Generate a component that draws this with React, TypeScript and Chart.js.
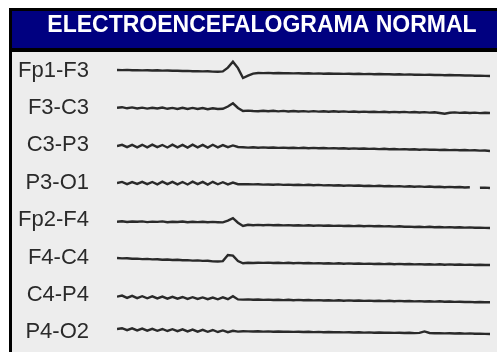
import React, { useEffect, useRef } from "react";
import { Chart, registerables } from "chart.js";

Chart.register(...registerables);

const TITLE = "ELECTROENCEFALOGRAMA NORMAL";
const CHANNELS = ["Fp1-F3", "F3-C3", "C3-P3", "P3-O1", "Fp2-F4", "F4-C4", "C4-P4", "P4-O2"];
const DURATION = 10; // seconds shown
const SPACING = 37.4; // vertical gap between channels (µV units)

const FP1_F3 = [
  0.6, 0.5, 0.7, 0.4, 0.5, 0.2, 0.4, 0.1, 0.3, 0, 0.1, -0.2, -0.1, -0.4, -0.3, -0.6, -0.5, -0.8, -0.7, -1, -1.1,
  -0.8, 3, 8.9, 2.5, -7.4, -5, -3, -2.4,
  -2.5, -2.3, -2.6, -2.4, -2.7, -2.5, -2.8, -2.6, -2.9, -2.7,
  -3, -2.8, -3.1, -2.9, -3.2, -3, -3.3, -3.1, -3.4, -3.2,
  -3.5, -3.3, -3.6, -3.4, -3.7, -3.6, -3.9, -3.7, -4, -3.8,
  -4.1, -4, -4.3, -4.1, -4.4, -4.3, -4.6, -4.4, -4.7, -4.6,
  -4.9, -4.8, -5.1, -5, -5.3, -5.4,
];
const F3_C3 = [
  0.3, 0.8, -0.3, 0.6, -0.5, 0.4, -0.6, 0.3, -0.5, 0.4, -0.8, 0.1, -0.9, 0.2, -0.9, 0.1, -1, 0, -1.2, -0.3, -1,
  -0.8, 1.5, 4.7, 0, -3, -2.6, -3,
  -3.2, -2.7, -3.3, -2.8, -3.4, -2.9, -3.5, -3, -3.5, -3.1,
  -3.6, -3.1, -3.6, -3.2, -3.7, -3.3, -3.8, -3.4, -3.9, -3.5,
  -4, -3.6, -4, -3.7, -4.1, -3.8, -4.2, -3.9, -4.3, -3.9,
  -4.4, -4, -4.5, -4.1, -4.6, -4.2, -5, -5.8, -4.8, -4.4,
  -4.9, -4.5, -5, -4.6, -5.1, -4.8, -5,
];
const C3_P3 = [
  -0.6, 0.6, -1.8, 0.5, -1.9, 0.6, -2, 0.7, -1.8, 0.4, -2.1, 0.8, -1.9, 0.5, -2.2, 0.7, -1.9, 0.5, -2.2, 0.6, -2, 0.3, -1.8, 0, -1.6,
  -1.8, -2.2, -1.9, -2.3, -2, -2.4, -2.1, -2.5, -2.2, -2.6,
  -2.3, -2.7, -2.4, -2.8, -2.5, -2.9, -2.6, -3, -2.7, -3.1,
  -2.9, -3.3, -3, -3.4, -3.1, -3.5, -3.3, -3.7, -3.4, -3.8,
  -3.6, -4, -3.7, -4.1, -3.9, -4.3, -4, -4.4, -4.2, -4.6,
  -4.3, -4.7, -4.5, -4.9, -4.6, -5, -4.8, -5.2, -5.1, -5.6,
];
const P3_O1 = [
  -0.2, 0.9, -1.3, 0.7, -1.1, 1, -1.4, 0.8, -1.5, 1.1, -1.3, 0.9, -1.6, 0.8, -1.7, 1.1, -1.4, 0.9, -1.8, 1, -1.5, 0.6, -1.6, 0.2, -1.4,
  -1.3, -1.5, -1.6, -1.4, -1.8, -1.7, -1.9, -1.6, -2.1, -1.8,
  -2.2, -1.9, -2.3, -2, -2.5, -2.1, -2.6, -2.3, -2.7, -2.4,
  -2.9, -2.6, -3, -2.7, -3.2, -2.9, -3.3, -3, -3.5, -3.2,
  -3.6, -3.3, -3.8, -3.5, -3.9, -3.6, -4.1, -3.7, -4.2, -3.9,
  -4.4, -4.1, -4.5, -4.2, -4.7, -4.4, null, -5, -4.8, -5.2,
];
const FP2_F4 = [
  -1.5, -1.1, -1.8, -1.3, -1.6, -1.2, -1.9, -1.4, -1.7, -1.2, -2, -1.5, -1.8, -1.3, -2.1, -1.6, -1.9, -1.5, -2.1, -1.7, -2,
  -2.2, -0.5, 2, -2.5, -5.8, -4.6, -5, -4.7,
  -5, -4.7, -5.1, -4.8, -5.2, -4.9, -5.3, -5, -5.4, -5.1,
  -5.5, -5.2, -5.6, -5.3, -5.7, -5.4, -5.8, -5.5, -5.9, -5.6,
  -6, -5.7, -6.1, -5.8, -6.2, -6, -6.4, -6.1, -6.6, -6.4,
  -6.8, -6.5, -6.9, -6.6, -7, -6.8, -7.2, -6.9, -7.3, -7.1,
  -7.4, -7.2, -7.6, -7.4, -7.7, -7.8,
];
const F4_C4 = [
  -0.4, -0.8, -0.6, -1.2, -1, -1.5, -1.3, -1.8, -1.6, -2.1, -1.9, -2.4, -2.2, -2.7, -2.5, -3, -2.8, -3.3, -3.2, -3.8, -3.9,
  -3.5, 2.6, 2, -3.5, -5.7, -5.2, -5.4, -5.1,
  -5.3, -5, -5.4, -5.1, -5.5, -5.2, -5.6, -5.3, -5.7, -5.4,
  -5.8, -5.5, -5.9, -5.6, -6, -5.7, -6.1, -5.8, -6.2, -5.9,
  -6.3, -6, -6.4, -6.1, -6.5, -6.2, -6.6, -6.3, -6.7, -6.4,
  -6.8, -6.5, -6.9, -6.6, -7, -6.7, -7.1, -6.8, -7.2, -6.9,
  -7.3, -7, -7.4, -7.1, -7.4, -7.4,
];
const C4_P4 = [
  -1.7, -0.6, -2.9, -0.9, -3.1, -1.2, -3.3, -1.4, -3.4, -1.6, -3.6, -1.8, -3.7, -2, -3.9, -2.2, -4, -2.4, -4.2, -2.6, -4.3, -2.4, -4.2, -1.2, -4.4,
  -4.6, -4.4, -4.8, -4.5, -4.9, -4.6, -5, -4.7, -5.1, -4.8,
  -5.2, -4.9, -5.3, -5, -5.4, -5.1, -5.5, -5.2, -5.6, -5.3,
  -5.7, -5.4, -5.8, -5.5, -5.9, -5.6, -6, -5.7, -6.1, -5.8,
  -6.2, -5.9, -6.3, -6, -6.4, -6.1, -6.5, -6.2, -6.6, -6.3,
  -6.7, -6.5, -6.9, -6.7, -7, -6.9, -7.2, -7, -7.3, -7.3,
];
const P4_O2 = [
  3.4, 4.2, 2.2, 4, 2, 3.8, 1.8, 3.6, 1.6, 3.4, 1.4, 3.2, 1.2, 3, 1, 2.8, 0.8, 2.6, 0.6, 2.4, 0.4, 2, 0.2, 1.6, 0.8,
  1.2, 1, 0.9, 1.1, 0.8, 1, 0.7, 0.9, 0.6, 0.8,
  0.5, 0.7, 0.4, 0.6, 0.3, 0.5, 0.2, 0.4, 0.1, 0.3,
  0, 0.2, -0.1, 0.1, -0.2, 0, -0.3, -0.1, -0.4, -0.2,
  -0.5, -0.3, -0.6, -0.4, -0.7, -0.5, 1, -0.6, -0.9, -0.7,
  -1, -0.8, -1.1, -0.9, -1.2, -1, -1.3, -1.2, -1.5, -1.6,
];
const SERIES = [FP1_F3, F3_C3, C3_P3, P3_O1, FP2_F4, F4_C4, C4_P4, P4_O2];

const frame = {
  id: "eegFrame",
  beforeDraw(chart: any) {
    const ctx = chart.ctx;
    const W = chart.width;
    const H = chart.height;
    ctx.save();
    ctx.fillStyle = "#ffffff";
    ctx.fillRect(0, 0, W, H);
    ctx.fillStyle = "#ededed";
    ctx.fillRect(9, 8, W - 9, H - 8);
    ctx.fillStyle = "#000000";
    ctx.fillRect(9, 8, W - 9, 44);
    ctx.fillRect(9, 8, 3, H - 8);
    ctx.fillStyle = "#000080";
    ctx.fillRect(12, 11, W - 12, 37);
    ctx.fillStyle = "#ffffff";
    ctx.font = "bold 23px 'Liberation Sans', Arial, sans-serif";
    ctx.textAlign = "center";
    ctx.textBaseline = "middle";
    ctx.fillText(TITLE, 262, 26);
    ctx.restore();
  },
};

export default function App() {
  const ref = useRef<HTMLCanvasElement>(null);
  useEffect(() => {
    document.body.style.margin = "0";
    const top = 52;
    const firstCenter = 70.6;
    const chart = new Chart(ref.current as HTMLCanvasElement, {
      type: "line",
      data: {
        datasets: SERIES.map((vals, ci) => ({
          label: CHANNELS[ci],
          data: vals.map((v, i) => ({
            x: (i * DURATION) / (vals.length - 1),
            y: v === null ? null : v - ci * SPACING,
          })),
          borderColor: "#2a2a2a",
          borderWidth: 2.4,
          pointRadius: 0,
          tension: 0,
          spanGaps: false,
        })),
      },
      options: {
        animation: false,
        responsive: false,
        events: [],
        layout: { padding: { top: top, left: 0, right: 7, bottom: 0 } },
        plugins: { legend: { display: false }, title: { display: false }, tooltip: { enabled: false } },
        scales: {
          x: { type: "linear", min: 0, max: DURATION, display: false },
          y: {
            type: "linear",
            min: -(352 - firstCenter),
            max: firstCenter - top,
            afterBuildTicks: (scale: any) => {
              scale.ticks = CHANNELS.map((_, i) => ({ value: -i * SPACING }));
            },
            afterFit: (scale: any) => {
              scale.width = 117;
              scale.paddingTop = 0;
              scale.paddingBottom = 0;
            },
            grid: { display: false, drawTicks: false },
            border: { display: false },
            ticks: {
              padding: 28,
              autoSkip: false,
              color: "#2a2a2a",
              font: { family: "'Liberation Sans', Arial, sans-serif", size: 22 },
              callback: (_v: any, i: number) => CHANNELS[i],
            },
          },
        },
      },
      plugins: [frame],
    });
    return () => chart.destroy();
  }, []);
  return <canvas ref={ref} width={497} height={352} style={{ display: "block" }} />;
}
